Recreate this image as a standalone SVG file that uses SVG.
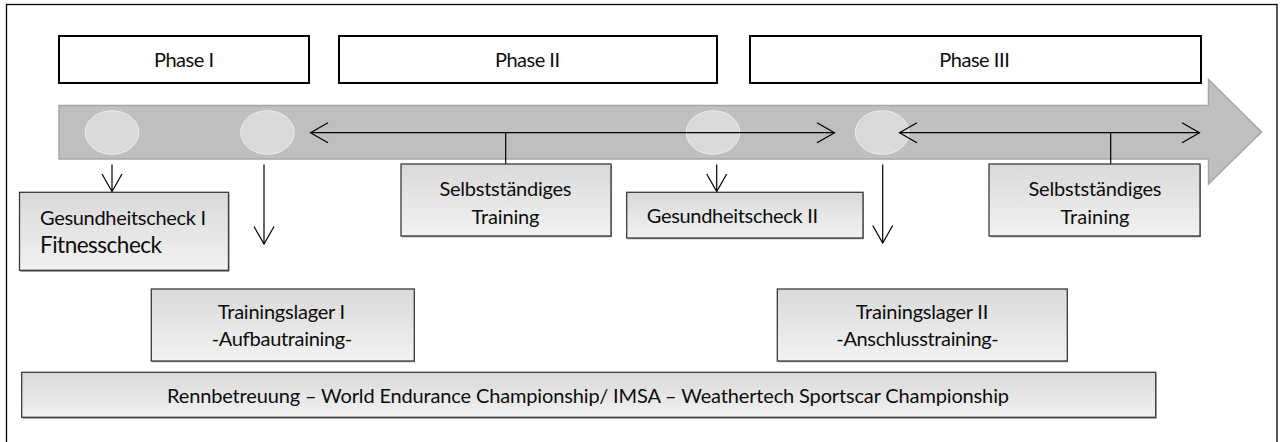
<svg xmlns="http://www.w3.org/2000/svg" width="1281" height="442" viewBox="0 0 1281 442">
  <defs>
    <linearGradient id="boxFill" x1="0" y1="0" x2="0" y2="1">
      <stop offset="0" stop-color="#d9d9d9"/>
      <stop offset="1" stop-color="#f2f2f2"/>
    </linearGradient>
    <marker id="openHead" viewBox="-19 -12 21 24" refX="0" refY="0" markerWidth="21" markerHeight="24" markerUnits="userSpaceOnUse" orient="auto-start-reverse">
      <path d="M-17.5,-10 L0,0 L-17.5,10" fill="none" stroke="#000" stroke-width="1.2"/>
    </marker>
    <style>
      .frame { fill: #fff; stroke: #000; stroke-width: 1.3; }
      .phase { fill: #fff; stroke: #000; stroke-width: 2; }
      .box { fill: url(#boxFill); stroke: #3a3a3a; stroke-width: 1.3; }
      .shadow { fill: #9a9a9a; }
      .band { fill: #bfbfbf; stroke: #a6a6a6; stroke-width: 1.5; }
      .dot { fill: #d9d9d9; stroke: #ededed; stroke-width: 1; }
      .lbl { font-family: "Lato", "Carlito", "Liberation Sans", sans-serif; font-size: 20px; fill: #0d0d0d; }
      .mid { text-anchor: middle; }
      .big { font-size: 22.5px; }
      .link { fill: none; stroke: #000; stroke-width: 1.2; }
      .arrow { fill: none; stroke: #000; stroke-width: 1.2; marker-end: url(#openHead); }
      .both { fill: none; stroke: #000; stroke-width: 1.2; marker-start: url(#openHead); marker-end: url(#openHead); }
    </style>
  </defs>

  <!-- page frame -->
  <rect class="frame" x="6.5" y="4.5" width="1270.5" height="460"/>

  <!-- phase headers -->
  <g id="phase-1">
    <rect class="phase" x="59" y="36" width="250" height="47"/>
    <text class="lbl mid" x="184" y="67" textLength="60">Phase I</text>
  </g>
  <g id="phase-2">
    <rect class="phase" x="339" y="36" width="378" height="47"/>
    <text class="lbl mid" x="527.5" y="67" textLength="65">Phase II</text>
  </g>
  <g id="phase-3">
    <rect class="phase" x="750" y="36" width="451" height="47"/>
    <text class="lbl mid" x="974.5" y="67" textLength="70.5">Phase III</text>
  </g>

  <!-- timeline arrow with milestones -->
  <g id="timeline">
    <polygon class="band" points="59,105.5 1208.5,105.5 1208.5,79.5 1261.5,132 1208.5,184 1208.5,159 59,159"/>
    <ellipse class="dot" cx="112" cy="132.5" rx="26.8" ry="21.8"/>
    <ellipse class="dot" cx="267.5" cy="132.5" rx="26.8" ry="21.8"/>
    <ellipse class="dot" cx="713" cy="132.5" rx="26.8" ry="21.8"/>
    <ellipse class="dot" cx="882.2" cy="132.5" rx="26.8" ry="21.8"/>
  </g>

  <!-- connectors -->
  <g id="connectors">
    <line class="both" x1="310.5" y1="132.7" x2="834.5" y2="132.7"/>
    <line class="link" x1="505.7" y1="132.7" x2="505.7" y2="164"/>
    <line class="both" x1="899.5" y1="132.7" x2="1199.5" y2="132.7"/>
    <line class="link" x1="1110.7" y1="132.7" x2="1110.7" y2="164"/>
    <line class="arrow" x1="112" y1="164.5" x2="112" y2="191.5"/>
    <line class="arrow" x1="264" y1="164.5" x2="264" y2="244"/>
    <line class="arrow" x1="716.7" y1="164.5" x2="716.7" y2="191.5"/>
    <line class="arrow" x1="882.7" y1="164.5" x2="882.7" y2="243"/>
  </g>

  <!-- activity boxes -->
  <g id="gesundheitscheck-1">
    <rect class="shadow" x="20.5" y="193.5" width="209" height="78.5"/>
    <rect class="box" x="19.5" y="192.3" width="209" height="78"/>
    <text class="lbl" x="40" y="224.5" textLength="166">Gesundheitscheck I</text>
    <text class="lbl big" x="40" y="253" textLength="122">Fitnesscheck</text>
  </g>
  <g id="selbststaendig-1">
    <rect class="shadow" x="402" y="165.5" width="210" height="71.8"/>
    <rect class="box" x="401" y="164" width="210" height="72"/>
    <text class="lbl mid" x="505.5" y="196" textLength="132">Selbstständiges</text>
    <text class="lbl mid" x="505.5" y="224" textLength="68">Training</text>
  </g>
  <g id="gesundheitscheck-2">
    <rect class="shadow" x="627.5" y="193.5" width="236.3" height="45.8"/>
    <rect class="box" x="626.7" y="192.3" width="236.3" height="45.7"/>
    <text class="lbl" x="646.7" y="223" textLength="171.5">Gesundheitscheck II</text>
  </g>
  <g id="selbststaendig-2">
    <rect class="shadow" x="990" y="165.5" width="211" height="71.8"/>
    <rect class="box" x="989" y="164" width="211" height="72"/>
    <text class="lbl mid" x="1095" y="196" textLength="133">Selbstständiges</text>
    <text class="lbl mid" x="1095" y="224" textLength="69">Training</text>
  </g>
  <g id="trainingslager-1">
    <rect class="shadow" x="152" y="290.5" width="263" height="71.8"/>
    <rect class="box" x="151.3" y="289" width="263" height="72"/>
    <text class="lbl mid" x="281.5" y="318.5" textLength="127.3">Trainingslager I</text>
    <text class="lbl mid" x="282" y="346" textLength="140.5">-Aufbautraining-</text>
  </g>
  <g id="trainingslager-2">
    <rect class="shadow" x="778" y="290.5" width="290" height="71.8"/>
    <rect class="box" x="777.3" y="289" width="290" height="72"/>
    <text class="lbl mid" x="922" y="318.5" textLength="132.6">Trainingslager II</text>
    <text class="lbl mid" x="917.5" y="346" textLength="162.4">-Anschlusstraining-</text>
  </g>
  <g id="rennbetreuung">
    <rect class="shadow" x="22.5" y="374" width="1134" height="44.8"/>
    <rect class="box" x="21.7" y="372.3" width="1134" height="45"/>
    <text class="lbl mid" x="588" y="403" textLength="842">Rennbetreuung – World Endurance Championship/ IMSA – Weathertech Sportscar Championship</text>
  </g>
</svg>
